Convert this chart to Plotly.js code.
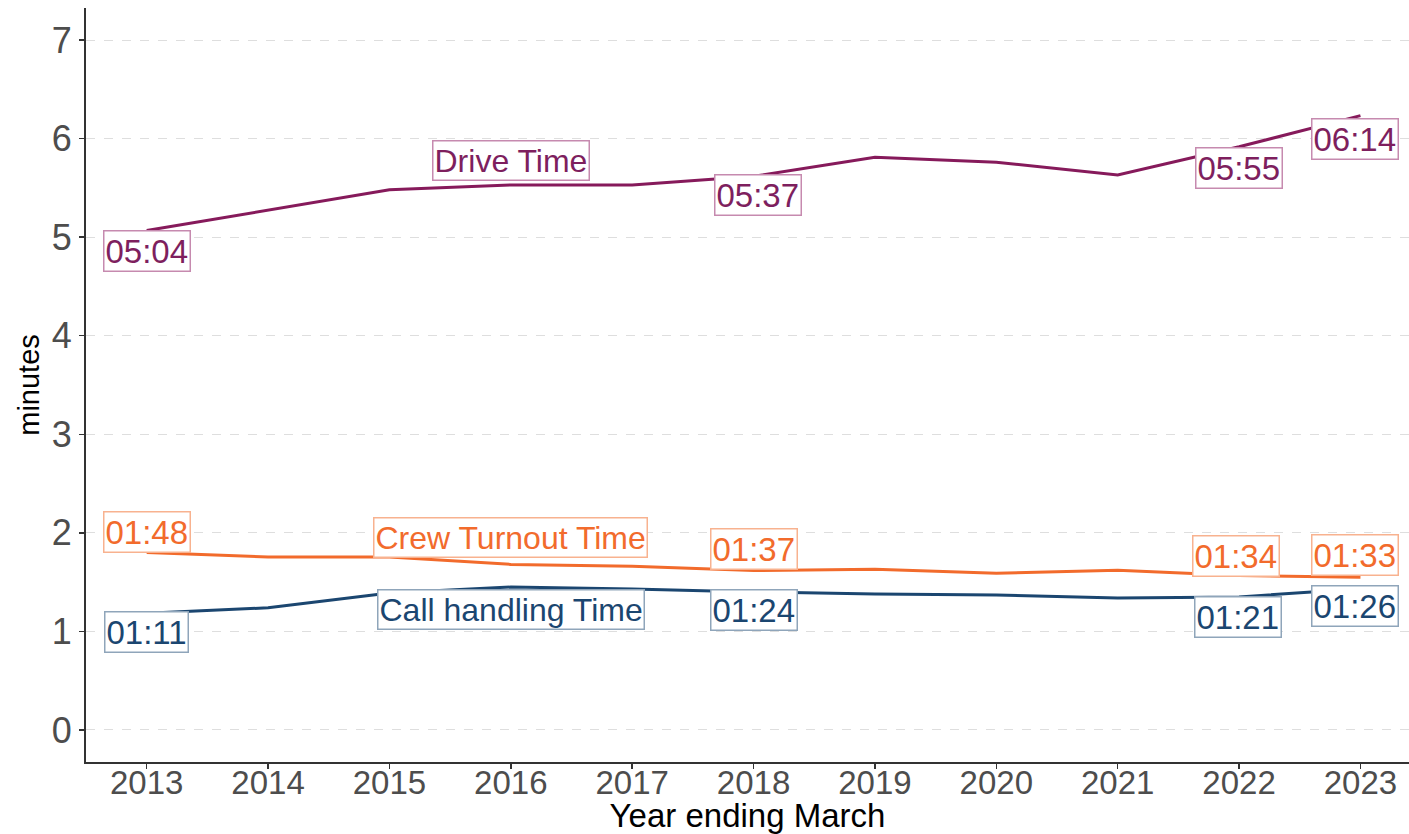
<!DOCTYPE html>
<html>
<head>
<meta charset="utf-8">
<script src="https://cdn.plot.ly/plotly-3.0.1.min.js"></script>
<style>
  html, body { margin: 0; padding: 0; background: #ffffff; }
  #chart { width: 1409px; height: 834px; }
</style>
</head>
<body>
<div id="chart"></div>
<script>
// ---- data ----
const years = [2013, 2014, 2015, 2016, 2017, 2018, 2019, 2020, 2021, 2022, 2023];
const driveTime = [5.067, 5.27, 5.48, 5.53, 5.53, 5.617, 5.81, 5.76, 5.63, 5.917, 6.233];
const crewTurnout = [1.8, 1.755, 1.755, 1.68, 1.66, 1.617, 1.63, 1.59, 1.62, 1.567, 1.55];
const callHandling = [1.183, 1.24, 1.39, 1.45, 1.43, 1.4, 1.38, 1.37, 1.34, 1.35, 1.433];
const labelYears = [2013, 2018, 2022, 2023];
const driveLabels = ["05:04", "05:37", "05:55", "06:14"];
const crewLabels = ["01:48", "01:37", "01:34", "01:33"];
const callLabels = ["01:11", "01:24", "01:21", "01:26"];
const seriesNames = ["Drive Time", "Crew Turnout Time", "Call handling Time"];
const yTicks = [0, 1, 2, 3, 4, 5, 6, 7];

// ---- styles ----
const FONT = "Liberation Sans, Arial, sans-serif";
const series = [
  {name: seriesNames[0], y: driveTime, labels: driveLabels, color: "#861a5b", text: "#7e1f5e", border: "#c68aaf",
   shifts: [[0, -20], [4, -19], [0, -21], [-5, -23]], nameX: 2016.0, nameY: 5.78},
  {name: seriesNames[1], y: crewTurnout, labels: crewLabels, color: "#f26b2c", text: "#f26b2c", border: "#f8b28f",
   shifts: [[0, 21], [0, 22], [-3, 20], [-5, 22]], nameX: 2016.0, nameY: 1.95},
  {name: seriesNames[2], y: callHandling, labels: callLabels, color: "#1b4670", text: "#1b4670", border: "#8fa5ba",
   shifts: [[0, -19], [0, -18], [-1, -20], [-5, -17]], nameX: 2016.0, nameY: 1.22}
];

const traces = series.map(s => ({
  type: "scatter", mode: "lines", x: years, y: s.y, name: s.name,
  line: {color: s.color, width: 3}, hoverinfo: "skip", showlegend: false
}));

const annotations = [];
series.forEach(s => {
  labelYears.forEach((yr, i) => {
    const idx = years.indexOf(yr);
    annotations.push({
      x: yr, y: s.y[idx], xref: "x", yref: "y", text: s.labels[i],
      showarrow: false, xshift: s.shifts[i][0], yshift: s.shifts[i][1],
      font: {family: FONT, size: 33, color: s.text},
      bgcolor: "#ffffff", bordercolor: s.border, borderwidth: 1.5, borderpad: 1
    });
  });
  annotations.push({
    x: s.nameX, y: s.nameY, xref: "x", yref: "y", text: s.name, showarrow: false,
    font: {family: FONT, size: 32, color: s.text},
    bgcolor: "#ffffff", bordercolor: s.border, borderwidth: 1.5, borderpad: 1
  });
});

const layout = {
  width: 1409, height: 834,
  paper_bgcolor: "#ffffff", plot_bgcolor: "#ffffff",
  margin: {l: 86, r: 0, t: 8, b: 72},
  font: {family: FONT},
  xaxis: {
    range: [2012.5, 2023.4], tickvals: years, ticktext: years.map(String),
    showgrid: false, zeroline: false,
    showline: true, linecolor: "#333333", linewidth: 2,
    ticks: "outside", ticklen: 5, tickwidth: 1.5, tickcolor: "#333333",
    ticklabelstandoff: -15,
    tickfont: {family: FONT, size: 33, color: "#4d4d4d"},
    title: {text: "Year ending March", font: {family: FONT, size: 33, color: "#000000"}, standoff: 0}
  },
  yaxis: {
    range: [-0.325, 7.325], tickvals: yTicks,
    showgrid: true, gridcolor: "#dedede", gridwidth: 1, griddash: "dash",
    zeroline: false,
    showline: true, linecolor: "#333333", linewidth: 2,
    ticks: "outside", ticklen: 5, tickwidth: 1.5, tickcolor: "#333333",
    tickfont: {family: FONT, size: 36, color: "#4d4d4d"},
    title: {text: "minutes", font: {family: FONT, size: 29, color: "#000000"}, standoff: 4}
  },
  annotations: annotations,
  showlegend: false
};

Plotly.newPlot("chart", traces, layout, {displayModeBar: false, staticPlot: true});
</script>
</body>
</html>
